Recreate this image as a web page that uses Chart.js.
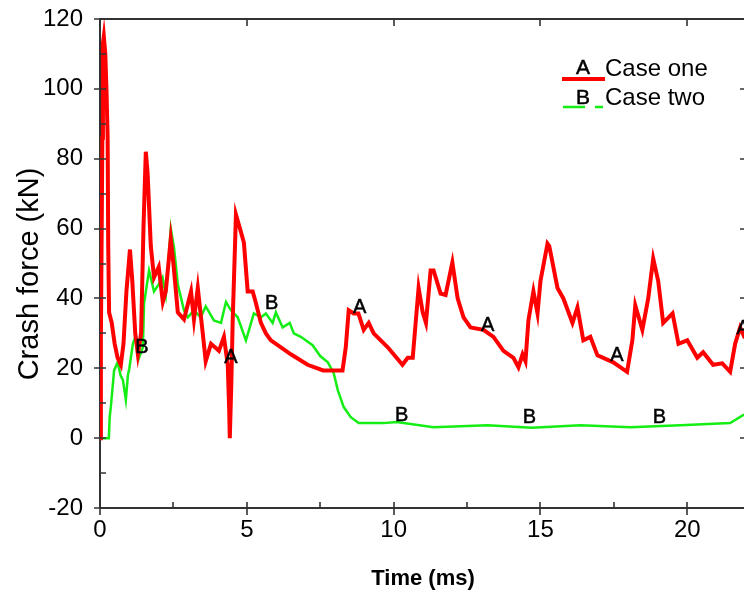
<!DOCTYPE html>
<html>
<head>
<meta charset="utf-8">
<script src="https://cdn.jsdelivr.net/npm/chart.js@4.4.1/dist/chart.umd.min.js"></script>
<style>
  html, body { margin:0; padding:0; background:#fff; overflow:hidden; }
  #wrap { width:750px; height:598px; position:relative; }
</style>
</head>
<body>
<div id="wrap"><canvas id="crashChart"></canvas></div>
<script>
/* ==========================================
   DATA
========================================== */

// Case one (red, letter A)
const timeOne = [0,0.03,0.08,0.1,0.13,0.18,0.22,0.26,0.28,0.31,0.4,0.5,0.6,0.71,0.8,0.9,1.02,1.1,1.2,1.29,1.4,1.48,1.56,1.62,1.73,1.84,2.0,2.14,2.24,2.41,2.5,2.65,2.86,3.1,3.2,3.33,3.5,3.6,3.78,4.05,4.22,4.35,4.4,4.42,4.47,4.52,4.63,4.8,4.9,5.03,5.2,5.3,5.48,5.65,5.82,6.5,7.07,7.6,8.26,8.37,8.47,8.64,8.8,8.98,9.15,9.32,9.8,10.3,10.48,10.65,10.85,10.99,11.1,11.26,11.36,11.6,11.77,12.0,12.18,12.38,12.62,13.06,13.4,13.74,14.08,14.25,14.39,14.49,14.59,14.76,14.9,15.0,15.24,15.3,15.58,15.78,16.09,16.26,16.46,16.7,16.94,17.48,17.95,18.13,18.23,18.47,18.67,18.84,19.01,19.18,19.5,19.7,20.0,20.34,20.54,20.88,21.19,21.46,21.63,21.8,21.94,22.1];
const forceOne = [0,28,86,113,115,110,100,86,55,36,33,27,23,21,27,42,54,45,30,24,30,60,82,76,55,46,49,39,42,57,50,36,34,42,34,43,30,22,27,25,29,21,8,0,15,34,64,59,56,42,42,39,33,30,28,24,21,19.4,19.4,26,36.6,35.7,35.7,31,33,30,26,21,23,23,43,36,33,48,48,41.4,41,50.3,40,34.6,31.7,31,29,25,23,20.3,24,22,33.7,42,35.7,45,55.7,55,43,40,33,37.4,28,29,23.7,21.7,19,28,38,31,40,51.4,45,33,35.7,27,28,23,24.6,21,21.4,19,27,31.7,29,29];

// Case two (green, letter B)
const timeTwo = [0,0.3,0.33,0.37,0.48,0.6,0.7,0.78,0.88,0.95,1.0,1.12,1.22,1.33,1.46,1.5,1.67,1.84,2.0,2.13,2.24,2.35,2.41,2.52,2.65,2.86,2.99,3.2,3.43,3.6,3.88,4.12,4.29,4.46,4.69,4.97,5.24,5.48,5.65,5.88,5.99,6.22,6.46,6.6,6.84,7.24,7.5,7.76,7.96,8.1,8.3,8.54,8.81,9.66,10.1,11.36,13.2,14.7,16.36,18.06,19.76,21.46,21.9,22.1];
const forceTwo = [0,0,6,9,19.4,21.7,18,16.6,11,18,20,27,29.4,23,26,38.6,48,42,44,46,41,53,60,54.6,44,36.6,34.6,36.6,34.6,37.7,33.7,33,39,36.6,34.6,28,35.7,34.6,35.7,33,36,31.7,33,30,29,26.6,23.5,21.7,18.6,13.7,8.9,6,4.3,4.3,4.6,3.1,3.7,3.0,3.7,3.1,3.7,4.3,6.6,7];

// letter markers on the curves
const markOneTime  = [4.46,8.84,13.2,17.6,21.9];
const markOneForce = [23,37.4,32.3,23.7,31.4];
const markTwoTime  = [1.43,5.85,10.27,14.62,19.05];
const markTwoForce = [26,38.6,6.6,5.8,5.8];

// axis ticks
const xMajor = [0,5,10,15,20];
const xMinor = [2.5,7.5,12.5,17.5];
const yMajor = [-20,0,20,40,60,80,100,120];
const yMinor = [-10,10,30,50,70,90,110];

const seriesNames   = ["Case one","Case two"];
const seriesLetters = ["A","B"];
const seriesColors  = ["#ff0000","#14ee14"];

const FONT = "'Liberation Sans', Arial, sans-serif";

/* ==========================================
   PLUGINS
========================================== */

const frameTicks = {
    id:"frameTicks",
    afterDatasetsDraw(chart){
        const ctx = chart.ctx;
        const area = chart.chartArea;
        const xs = chart.scales.x;
        const ys = chart.scales.y;

        ctx.save();
        ctx.strokeStyle = "#333";
        ctx.lineWidth = 2;

        // top + right frame
        ctx.beginPath();
        ctx.moveTo(area.left, area.top);
        ctx.lineTo(area.right, area.top);
        ctx.lineTo(area.right, area.bottom);
        ctx.stroke();

        ctx.lineWidth = 1.6;
        ctx.beginPath();
        xMajor.forEach(v=>{
            const px = Math.round(xs.getPixelForValue(v));
            ctx.moveTo(px, area.bottom-6); ctx.lineTo(px, area.bottom+7);
            ctx.moveTo(px, area.top); ctx.lineTo(px, area.top+7);
        });
        xMinor.forEach(v=>{
            const px = Math.round(xs.getPixelForValue(v));
            ctx.moveTo(px, area.bottom); ctx.lineTo(px, area.bottom-6);
        });
        yMajor.forEach(v=>{
            const py = Math.round(ys.getPixelForValue(v));
            ctx.moveTo(area.left-6, py); ctx.lineTo(area.left+6, py);
            ctx.moveTo(area.right-6, py); ctx.lineTo(area.right, py);
        });
        yMinor.forEach(v=>{
            const py = Math.round(ys.getPixelForValue(v));
            ctx.moveTo(area.left, py); ctx.lineTo(area.left+6, py);
        });
        ctx.stroke();
        ctx.restore();
    }
};

const letterMarks = {
    id:"letterMarks",
    afterDatasetsDraw(chart){
        const ctx = chart.ctx;
        const xs = chart.scales.x;
        const ys = chart.scales.y;
        ctx.save();
        ctx.fillStyle = "#000";
        ctx.strokeStyle = "#000";
        ctx.lineWidth = 0.5;
        ctx.font = "20px " + FONT;
        ctx.textAlign = "center";
        ctx.textBaseline = "middle";
        markOneTime.forEach((t,i)=>{
            const x = xs.getPixelForValue(t), y = ys.getPixelForValue(markOneForce[i]);
            ctx.fillText("A", x, y); ctx.strokeText("A", x, y);
        });
        markTwoTime.forEach((t,i)=>{
            const x = xs.getPixelForValue(t), y = ys.getPixelForValue(markTwoForce[i]);
            ctx.fillText("B", x, y); ctx.strokeText("B", x, y);
        });
        ctx.restore();
    }
};

const sideTitle = {
    id:"sideTitle",
    afterDraw(chart){
        const ctx = chart.ctx;
        ctx.save();
        ctx.translate(30, 274);
        ctx.rotate(-Math.PI/2);
        ctx.fillStyle = "#000";
        ctx.font = "29px " + FONT;
        ctx.textAlign = "center";
        ctx.textBaseline = "middle";
        ctx.fillText("Crash force (kN)", 0, 0);
        ctx.restore();
    }
};

const boxLegend = {
    id:"boxLegend",
    afterDraw(chart){
        const ctx = chart.ctx;
        ctx.save();

        // Case one
        ctx.strokeStyle = seriesColors[0];
        ctx.lineWidth = 4;
        ctx.beginPath();
        ctx.moveTo(562,79); ctx.lineTo(605,79);
        ctx.stroke();

        // Case two (broken short line)
        ctx.strokeStyle = seriesColors[1];
        ctx.lineWidth = 2.5;
        ctx.beginPath();
        ctx.moveTo(563,107); ctx.lineTo(585,107);
        ctx.moveTo(595,107); ctx.lineTo(603,107);
        ctx.stroke();

        ctx.fillStyle = "#000";
        ctx.strokeStyle = "#000";
        ctx.lineWidth = 0.5;
        ctx.textBaseline = "middle";
        ctx.textAlign = "center";
        ctx.font = "21px " + FONT;
        ctx.fillText(seriesLetters[0], 583, 68);
        ctx.strokeText(seriesLetters[0], 583, 68);
        ctx.fillText(seriesLetters[1], 583, 98);
        ctx.strokeText(seriesLetters[1], 583, 98);

        ctx.textAlign = "left";
        ctx.font = "24px " + FONT;
        ctx.fillText(seriesNames[0], 605, 69);
        ctx.fillText(seriesNames[1], 605, 98);

        ctx.restore();
    }
};

/* ==========================================
   CHART
========================================== */

const ctx = document.getElementById("crashChart").getContext("2d");

new Chart(ctx,{

    type:"line",

    data:{
        datasets:[
            {
                label:seriesNames[0],
                data:timeOne.map((t,i)=>({x:t,y:forceOne[i]})),
                borderColor:seriesColors[0],
                borderWidth:4,
                pointRadius:0,
                tension:0,
                fill:false
            },
            {
                label:seriesNames[1],
                data:timeTwo.map((t,i)=>({x:t,y:forceTwo[i]})),
                borderColor:seriesColors[1],
                borderWidth:2.5,
                pointRadius:0,
                tension:0,
                fill:false
            }
        ]
    },

    options:{
        responsive:true,
        maintainAspectRatio:false,
        animation:false,
        layout:{ padding:{ top:19, right:4, left:0, bottom:0 } },
        plugins:{
            legend:{ display:false },
            tooltip:{ enabled:false }
        },
        scales:{
            x:{
                type:"linear",
                min:0,
                max:22,
                afterBuildTicks(scale){
                    scale.ticks = xMajor.map(v=>({value:v}));
                },
                afterFit(scale){
                    scale.height = 90;
                    scale.paddingLeft = 0;
                    scale.paddingRight = 0;
                },
                grid:{ display:false, drawTicks:false },
                border:{ display:true, color:"#333", width:2 },
                ticks:{
                    color:"#000",
                    padding:8,
                    maxRotation:0,
                    font:{ family:FONT, size:24 }
                },
                title:{
                    display:true,
                    text:"Time (ms)",
                    color:"#000",
                    padding:{ top:0, bottom:6 },
                    font:{ family:FONT, size:22, weight:"bold" }
                }
            },
            y:{
                min:-20,
                max:120,
                afterBuildTicks(scale){
                    scale.ticks = yMajor.map(v=>({value:v}));
                },
                afterFit(scale){
                    scale.width = 100;
                    scale.paddingTop = 0;
                    scale.paddingBottom = 0;
                },
                grid:{ display:false, drawTicks:false },
                border:{ display:true, color:"#333", width:2 },
                ticks:{
                    color:"#000",
                    padding:17,
                    font:{ family:FONT, size:24 }
                }
            }
        }
    },

    plugins:[frameTicks, letterMarks, sideTitle, boxLegend]

});
</script>
</body>
</html>
